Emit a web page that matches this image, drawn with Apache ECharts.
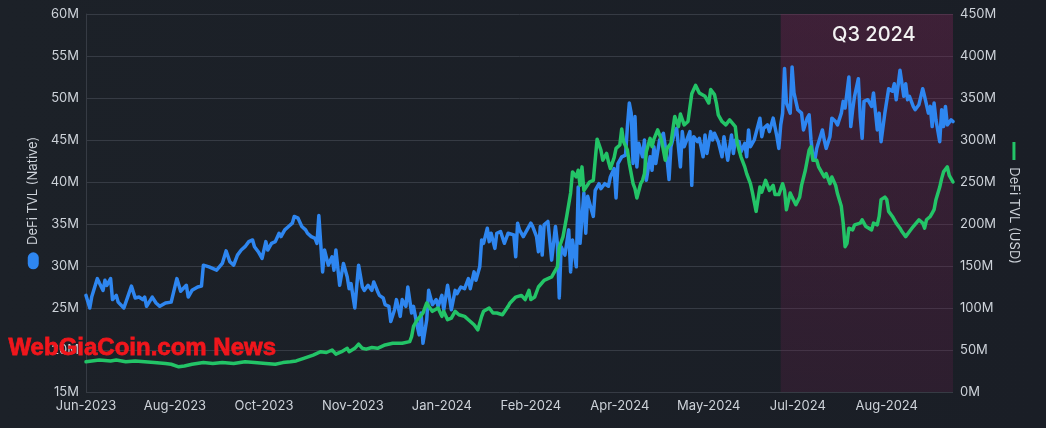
<!DOCTYPE html>
<html>
<head>
<meta charset="utf-8">
<script src="https://cdn.jsdelivr.net/npm/echarts@6/dist/echarts.min.js"></script>
<style>
html,body{margin:0;padding:0;background:#1b1f27;}
#chart{width:1046px;height:428px;}
</style>
</head>
<body>
<div id="chart"></div>
<script>
// ---- categories: daily dates (first and last day of the chart) ----
const startDate = '2023-06-30';
const endDate = '2024-09-30';
const q3Start = '2024-07-01';
const monthNames = ['Jan','Feb','Mar','Apr','May','Jun','Jul','Aug','Sep','Oct','Nov','Dec'];

// ---- axis ticks ----
const leftTicks = { min: 15, max: 60, step: 5 };   // M (native)
const rightTicks = { min: 0, max: 450, step: 50 }; // M (USD)

// ---- DeFi TVL (Native), millions: day offset from startDate, value ----
const nativeDays = [0,2,3,6,7,9,10,11,13,14,16,17,20,22,24,26,28,30,31,32,35,37,39,42,45,48,50,53,54,56,59,61,62,65,69,70,72,74,76,78,80,82,84,86,88,89,91,93,95,96,98,100,102,103,105,107,109,110,112,114,116,117,119,121,122,123,125,126,128,130,131,132,134,136,138,139,140,142,144,146,147,149,151,152,154,155,157,158,160,161,163,164,166,167,169,170,172,173,175,176,177,178,180,181,183,185,186,188,189,191,193,195,196,198,200,202,203,205,206,208,209,210,212,213,214,216,217,219,221,223,224,226,227,228,229,231,233,235,236,238,239,240,241,242,244,246,248,249,250,251,253,255,256,257,259,260,261,263,264,265,267,268,269,271,272,274,276,277,279,280,281,283,285,286,287,288,289,290,291,292,294,295,296,298,299,300,301,303,305,306,307,308,309,311,312,314,315,316,318,319,320,321,323,324,326,327,328,330,331,332,334,335,336,337,339,341,342,343,345,346,348,349,350,351,353,354,356,357,358,360,361,362,363,365,366,367,368,369,370,372,373,374,376,378,379,381,382,383,384,385,386,387,389,390,391,393,394,396,397,399,400,401,403,404,405,406,408,409,410,411,413,415,416,418,419,420,422,424,426,427,428,429,430,432,433,434,435,437,438,440,442,443,445,446,447,448,449,451,452,453,454,455,457,458];
const nativeTvl = [26.5,25.0,26.3,28.5,28.0,27.1,28.3,27.7,28.5,26.0,26.5,25.7,25.0,26.3,27.6,26.2,26.3,26.0,26.3,25.2,26.3,25.6,25.2,25.6,25.7,28.5,27.0,27.7,26.3,27.1,27.5,27.6,30.1,29.9,29.5,29.7,30.3,31.8,30.5,30.1,31.3,31.9,32.3,32.9,33.1,32.3,31.7,30.9,32.9,31.9,32.7,32.9,33.9,33.5,34.3,34.7,35.1,35.9,35.7,34.7,34.3,33.9,33.5,33.3,32.7,36.0,29.3,31.9,30.1,31.1,29.5,31.9,27.7,30.3,28.7,27.3,27.9,25.0,30.1,27.5,27.1,27.7,27.1,28.1,27.0,26.5,26.2,25.4,25.2,23.4,24.8,26.0,24.0,26.0,25.2,27.5,24.4,25.2,22.8,21.8,24.4,20.8,23.6,27.1,25.4,26.0,25.2,26.5,24.8,27.7,24.8,27.1,26.7,27.5,27.3,28.5,27.3,29.3,28.3,29.9,33.1,32.7,34.5,32.9,33.9,32.1,33.9,34.1,32.7,33.9,33.9,33.7,31.1,35.1,34.3,33.5,34.3,35.1,34.7,33.5,31.7,34.7,31.3,34.9,35.3,30.7,34.7,32.7,26.2,32.3,31.3,34.3,29.3,33.1,29.9,39.4,32.7,38.7,33.9,38.3,36.7,35.9,39.0,39.8,39.2,39.8,39.5,40.6,41.6,38.1,42.2,43.0,43.2,46.6,49.4,48.2,42.2,47.8,41.8,44.6,43.0,45.0,40.2,43.0,41.4,44.2,42.2,45.0,45.8,44.2,42.6,40.3,44.2,46.0,46.4,41.8,46.0,44.2,45.4,46.0,39.6,45.4,44.8,45.2,43.0,45.6,43.4,46.0,45.0,45.8,44.8,45.0,43.0,45.4,42.6,45.6,43.4,45.0,44.8,43.6,44.6,43.0,46.2,44.2,45.0,45.1,47.6,45.4,46.4,46.8,46.0,46.8,47.6,45.4,44.0,46.8,48.2,53.5,49.4,48.2,53.7,50.6,48.6,48.2,46.2,47.6,48.0,45.0,43.0,42.6,44.0,44.2,46.2,45.0,44.0,45.4,47.6,47.2,46.8,48.2,49.6,48.8,52.5,46.6,48.6,50.2,52.3,47.8,45.2,49.6,49.8,49.0,50.6,46.2,48.2,44.8,48.2,51.1,50.8,51.7,49.8,51.5,53.3,50.2,51.7,49.8,50.2,49.0,48.6,49.2,51.1,50.2,48.2,49.0,46.6,49.4,47.4,44.8,48.6,46.6,49.0,46.8,47.4,47.2];

// ---- DeFi TVL (USD), millions: day offset from startDate, value ----
const usdDays = [0,3,7,13,16,21,26,31,36,42,45,49,52,56,62,67,72,78,84,89,95,100,104,108,111,115,120,124,127,130,132,135,138,139,142,144,146,148,151,154,155,158,162,167,171,172,173,175,178,180,181,183,186,188,189,191,193,195,197,200,202,205,207,209,210,213,215,217,220,223,224,227,230,232,234,235,237,239,242,243,246,248,249,250,252,254,256,257,259,260,261,262,263,264,266,268,270,272,273,275,276,277,279,280,282,283,284,286,287,289,290,291,293,294,295,296,298,299,300,302,304,306,307,309,311,313,314,316,318,320,322,324,325,327,329,330,332,333,334,336,338,340,341,343,344,346,348,349,351,352,354,356,357,359,361,363,364,366,368,369,370,372,373,375,377,378,380,382,383,384,386,387,388,390,391,393,394,396,397,399,400,401,402,403,405,406,407,409,410,412,413,415,416,418,419,420,422,423,424,426,428,430,431,433,435,437,438,440,442,443,444,446,447,448,449,451,452,453,455,456,458];
const usdTvl = [36,37,38,37,38,36,37,36,35,34,33,30,31,33,35,34,35,34,36,35,34,33,35,36,37,40,44,48,47,50,45,48,52,48,52,57,52,51,53,52,54,56,58,58,60,66,78,86,94,106,102,96,100,90,96,86,88,96,92,90,86,80,74,90,96,100,94,94,92,102,106,113,115,110,121,110,113,125,133,135,137,145,149,172,185,210,237,262,256,264,246,268,240,242,250,252,301,288,276,284,274,266,279,290,294,313,298,288,272,248,242,231,248,252,260,286,302,292,301,312,300,276,290,296,328,316,331,318,322,355,365,356,357,352,344,360,354,344,330,322,318,324,326,316,296,280,268,260,248,238,215,244,238,252,240,246,235,235,248,240,217,237,232,223,232,246,264,288,292,276,276,268,270,256,260,248,256,246,236,221,201,173,177,195,193,199,197,201,205,197,195,193,201,199,209,229,232,229,215,209,201,195,191,185,191,197,197,205,201,195,205,209,213,217,229,244,254,262,268,258,250];

// ---- build category list ----
function buildDates(a, b) {
  const out = [];
  const d = new Date(a + 'T00:00:00Z');
  const e = new Date(b + 'T00:00:00Z');
  while (d <= e) {
    out.push(d.toISOString().slice(0, 10));
    d.setUTCDate(d.getUTCDate() + 1);
  }
  return out;
}
const dates = buildDates(startDate, endDate);
const fmtDate = s => monthNames[parseInt(s.slice(5, 7), 10) - 1] + '-' + s.slice(0, 4);

const nativeData = nativeDays.map((d, i) => [dates[d], nativeTvl[i]]);
const usdData = usdDays.map((d, i) => [dates[d], usdTvl[i]]);

const BLUE = '#2e86f0';
const GREEN = '#23c467';
const TEXT = '#cdd2d9';
const GRIDC = '#363b44';
const FONT = 'Inter, "Noto Sans", sans-serif';

const chart = echarts.init(document.getElementById('chart'), null, { renderer: 'canvas' });
chart.setOption({
  backgroundColor: {
    type: 'linear', x: 0, y: 0, x2: 1, y2: 0,
    colorStops: [
      { offset: 0, color: '#1c2128' },
      { offset: 1, color: '#1a1e26' }
    ]
  },
  animation: false,
  textStyle: { fontFamily: FONT },
  grid: { left: 86, right: 93, top: 14, bottom: 36 },
  xAxis: {
    type: 'category',
    data: dates,
    boundaryGap: false,
    axisLine: { show: false },
    axisTick: { show: false },
    splitLine: { show: false },
    axisLabel: {
      interval: 46,
      color: TEXT,
      fontSize: 13,
      fontFamily: FONT,
      margin: 8,
      formatter: v => fmtDate(v)
    }
  },
  yAxis: [
    {
      type: 'value',
      position: 'left',
      min: leftTicks.min, max: leftTicks.max, interval: leftTicks.step,
      axisLine: { show: true, lineStyle: { color: GRIDC } },
      axisTick: { show: false },
      splitLine: { lineStyle: { color: GRIDC, width: 1 } },
      axisLabel: { color: TEXT, fontSize: 13, margin: 7, formatter: '{value}M' },
      name: '{pill|}  DeFi TVL (Native)',
      nameLocation: 'middle',
      nameRotate: 90,
      nameGap: 40,
      nameTextStyle: {
        color: TEXT, fontSize: 13, fontFamily: FONT,
        rich: { pill: { width: 17, height: 11, backgroundColor: BLUE, borderRadius: 5.5 } }
      }
    },
    {
      type: 'value',
      position: 'right',
      min: rightTicks.min, max: rightTicks.max, interval: rightTicks.step,
      axisLine: { show: false },
      axisTick: { show: false },
      splitLine: { show: false },
      axisLabel: { color: TEXT, fontSize: 13, margin: 7, formatter: '{value}M' },
      name: '{dash|}  DeFi TVL (USD)',
      nameLocation: 'middle',
      nameRotate: -90,
      nameGap: 52,
      nameTextStyle: {
        color: TEXT, fontSize: 13, fontFamily: FONT,
        rich: { dash: { width: 18, height: 3, backgroundColor: GREEN } }
      }
    }
  ],
  series: [
    {
      name: 'DeFi TVL (Native)',
      type: 'line',
      yAxisIndex: 0,
      data: nativeData,
      showSymbol: false,
      z: 3,
      lineStyle: { color: BLUE, width: 3.5, join: 'round', cap: 'round' },
      itemStyle: { color: BLUE },
      markArea: {
        silent: true,
        itemStyle: {
          color: {
            type: 'linear', x: 0, y: 0, x2: 0, y2: 1,
            colorStops: [
              { offset: 0, color: 'rgba(125,35,85,0.36)' },
              { offset: 1, color: 'rgba(105,30,75,0.24)' }
            ]
          }
        },
        label: {
          show: true,
          position: 'insideTop',
          offset: [7, 6],
          color: '#f2f2f2',
          fontSize: 20,
          fontFamily: FONT,
          fontWeight: 500
        },
        data: [[{ name: 'Q3 2024', xAxis: q3Start }, { xAxis: endDate }]]
      }
    },
    {
      name: 'DeFi TVL (USD)',
      type: 'line',
      yAxisIndex: 1,
      data: usdData,
      showSymbol: false,
      z: 4,
      lineStyle: { color: GREEN, width: 3.5, join: 'round', cap: 'round' },
      itemStyle: { color: GREEN }
    }
  ],
  graphic: [
    {
      type: 'text',
      left: 8,
      top: 336,
      z: 100,
      style: {
        text: 'WebGiaCoin.com News',
        fill: '#f0161c',
        stroke: '#f0161c',
        lineWidth: 0.8,
        font: 'bold 24px "Liberation Sans", Arial, sans-serif'
      }
    }
  ]
});
</script>
</body>
</html>
